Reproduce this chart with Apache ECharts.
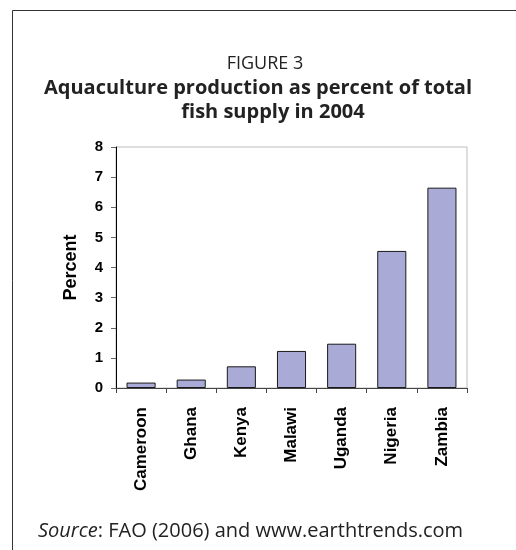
<!DOCTYPE html>
<html>
<head>
<meta charset="utf-8">
<script src="https://cdn.jsdelivr.net/npm/echarts@6/dist/echarts.min.js"></script>
<style>
html,body{margin:0;padding:0;background:#fff;}
#chart{width:516px;height:550px;}
</style>
</head>
<body>
<div id="chart"></div>
<script>
const categories = ['Cameroon', 'Ghana', 'Kenya', 'Malawi', 'Uganda', 'Nigeria', 'Zambia'];
const values = [0.18, 0.28, 0.72, 1.23, 1.47, 4.55, 6.65];
const yTicks = [0, 1, 2, 3, 4, 5, 6, 7, 8];
const titleLines = ['FIGURE 3', 'Aquaculture production as percent of total', 'fish supply in 2004'];
const yAxisName = 'Percent';

const chart = echarts.init(document.getElementById('chart'), null, {renderer: 'canvas'});
const titleFont = '"Open Sans", "Noto Sans", sans-serif';
const axisFont = '"Liberation Sans", Arial, sans-serif';
chart.setOption({
  backgroundColor: '#fff',
  animation: false,
  graphic: [
    {type: 'line', shape: {x1: 12.5, y1: 10.5, x2: 516, y2: 10.5}, style: {stroke: '#333', lineWidth: 1}},
    {type: 'line', shape: {x1: 12.5, y1: 10.5, x2: 12.5, y2: 550}, style: {stroke: '#333', lineWidth: 1}},
    {type: 'text', style: {x: 265, y: 64, text: titleLines[0], font: '18px ' + titleFont, fill: '#222', textAlign: 'center', textVerticalAlign: 'middle'}},
    {type: 'text', style: {x: 258, y: 88, text: titleLines[1], font: 'bold 20px ' + titleFont, fill: '#222', textAlign: 'center', textVerticalAlign: 'middle'}},
    {type: 'text', style: {x: 273, y: 112, text: titleLines[2], font: 'bold 20px ' + titleFont, fill: '#222', textAlign: 'center', textVerticalAlign: 'middle'}},
    {type: 'text', style: {
      x: 38, y: 531, textVerticalAlign: 'middle',
      text: '{i|Source}: FAO (2006) and www.earthtrends.com',
      font: '20px ' + titleFont, fill: '#222',
      rich: {i: {fontStyle: 'italic', fontSize: 20, fontFamily: titleFont, fill: '#222'}}
    }}
  ],
  grid: {left: 116, right: 49, top: 147, bottom: 162, show: true, borderColor: '#bdbdbd', borderWidth: 1, backgroundColor: 'transparent'},
  xAxis: {
    type: 'category',
    data: categories,
    axisLine: {lineStyle: {color: '#444', width: 1}},
    axisTick: {show: true, length: 5, lineStyle: {color: '#444'}},
    axisLabel: {rotate: 90, margin: 19, fontFamily: axisFont, fontWeight: 'bold', fontSize: 17, color: '#000'},
    splitLine: {show: false}
  },
  yAxis: {
    type: 'value',
    min: yTicks[0], max: yTicks[yTicks.length - 1], interval: 1,
    name: yAxisName,
    nameLocation: 'middle',
    nameGap: 36,
    nameRotate: 90,
    nameTextStyle: {fontFamily: axisFont, fontWeight: 'bold', fontSize: 18, color: '#000'},
    axisLine: {show: true, lineStyle: {color: '#000', width: 1}},
    axisTick: {show: true, length: 5, lineStyle: {color: '#666'}},
    axisLabel: {margin: 13, fontFamily: axisFont, fontWeight: 'bold', fontSize: 15, color: '#000'},
    splitLine: {show: false}
  },
  series: [{
    type: 'bar',
    data: values,
    barWidth: '58%',
    itemStyle: {color: '#aaaad6', borderColor: '#1a1a1a', borderWidth: 1}
  }]
});
</script>
</body>
</html>
